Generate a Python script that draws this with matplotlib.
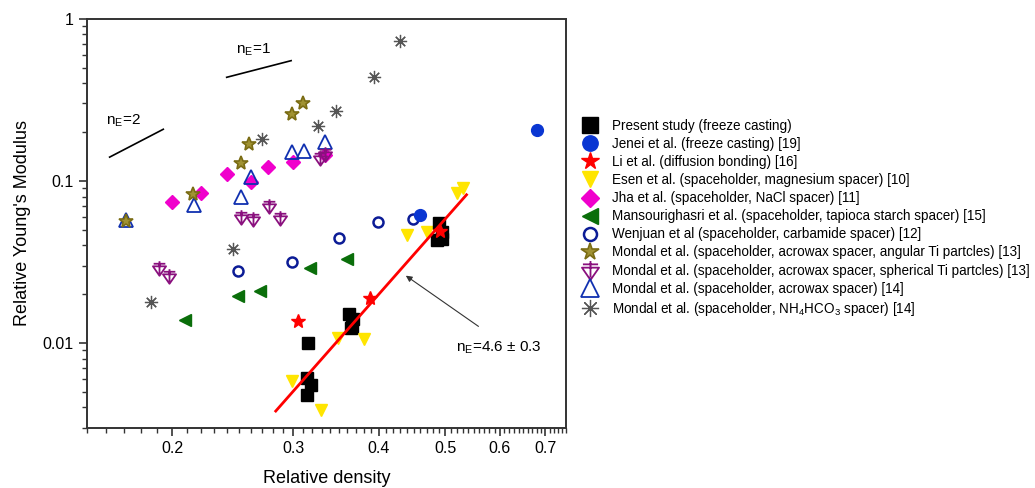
import matplotlib
matplotlib.use('Agg')
import matplotlib.pyplot as plt
from matplotlib.path import Path
from matplotlib.lines import Line2D
from matplotlib.ticker import FixedLocator, LogLocator, NullFormatter

plt.rcParams['font.family'] = ['Liberation Sans', 'DejaVu Sans']
plt.rcParams['mathtext.default'] = 'regular'

# ---------------- data ----------------
present_x = [0.315, 0.314, 0.319, 0.314, 0.362, 0.367, 0.366, 0.364, 0.489, 0.494, 0.487, 0.495]
present_y = [0.0100, 0.0061, 0.0055, 0.0048, 0.0151, 0.0140, 0.0128, 0.0123, 0.055, 0.048, 0.043, 0.044]

jenei_x = [0.680, 0.460]
jenei_y = [0.206, 0.0615]

li_x = [0.305, 0.388, 0.491]
li_y = [0.0137, 0.0189, 0.0487]

esen_x = [0.299, 0.329, 0.349, 0.380, 0.439, 0.470, 0.520, 0.531]
esen_y = [0.0058, 0.00384, 0.0107, 0.0105, 0.0465, 0.0483, 0.0840, 0.0902]

jha_x = [0.200, 0.220, 0.240, 0.260, 0.276, 0.300, 0.334]
jha_y = [0.0739, 0.0847, 0.1104, 0.099, 0.121, 0.1315, 0.1445]

mans_x = [0.209, 0.249, 0.268, 0.318, 0.359]
mans_y = [0.0139, 0.0194, 0.0210, 0.0290, 0.0329]

wen_x = [0.249, 0.299, 0.350, 0.399, 0.449]
wen_y = [0.0279, 0.0316, 0.0447, 0.0561, 0.0581]

ang_x = [0.171, 0.214, 0.252, 0.259, 0.299, 0.310]
ang_y = [0.0567, 0.0828, 0.1297, 0.168, 0.259, 0.304]

sph_x = [0.191, 0.198, 0.252, 0.262, 0.277, 0.287, 0.328, 0.334]
sph_y = [0.029, 0.026, 0.0597, 0.0581, 0.0695, 0.0589, 0.138, 0.1467]

acr_x = [0.171, 0.215, 0.252, 0.260, 0.299, 0.311, 0.334]
acr_y = [0.057, 0.0711, 0.080, 0.1063, 0.1515, 0.1537, 0.1746]

nh4_x = [0.186, 0.245, 0.270, 0.326, 0.346, 0.393, 0.429]
nh4_y = [0.0179, 0.0380, 0.1807, 0.218, 0.271, 0.435, 0.729]

fit_x = [0.283, 0.537]
fit_y = [0.0038, 0.082]

slope2_x = [0.162, 0.194]
slope2_y = [0.140, 0.208]
slope1_x = [0.240, 0.298]
slope1_y = [0.435, 0.551]

x_major = [0.2, 0.3, 0.4, 0.5, 0.6, 0.7]
x_major_labels = ['0.2', '0.3', '0.4', '0.5', '0.6', '0.7']
y_major = [0.01, 0.1, 1]
y_major_labels = ['0.01', '0.1', '1']

labels = [
    'Present study (freeze casting)',
    'Jenei et al. (freeze casting) [19]',
    'Li et al. (diffusion bonding) [16]',
    'Esen et al. (spaceholder, magnesium spacer) [10]',
    'Jha et al. (spaceholder, NaCl spacer) [11]',
    'Mansourighasri et al. (spaceholder, tapioca starch spacer) [15]',
    'Wenjuan et al (spaceholder, carbamide spacer) [12]',
    'Mondal et al. (spaceholder, acrowax spacer, angular Ti partcles) [13]',
    'Mondal et al. (spaceholder, acrowax spacer, spherical Ti partcles) [13]',
    'Mondal et al. (spaceholder, acrowax spacer) [14]',
    'Mondal et al. (spaceholder, NH$_4$HCO$_3$ spacer) [14]',
]

# ---------------- custom marker ----------------
M, L, C = Path.MOVETO, Path.LINETO, Path.CLOSEPOLY
sph_marker = Path(
    [(-0.9, 0.3), (0.9, 0.3), (0, -1), (-0.9, 0.3),
     (0, 1), (0, -0.75),
     (-0.8, 0.65), (0.8, 0.65)],
    [M, L, L, C, M, L, M, L])

W, H = 1035, 488
fig = plt.figure(figsize=(W / 100, H / 100), dpi=100)
ax = fig.add_axes([86.7 / W, 1 - 427.7 / H, (566 - 86.7) / W, (427.7 - 18.7) / H])
ax.set_xscale('log')
ax.set_yscale('log')
ax.set_xlim(0.15, 0.75)
ax.set_ylim(0.003, 1)

styles = [
    dict(marker='s', ms=8.5, color='black', ls='none'),
    dict(marker='o', ms=8.5, color='#0a36d2', ls='none'),
    dict(marker='*', ms=10, color='#ff0000', ls='none'),
    dict(marker='v', ms=8.5, color='#ffe500', ls='none'),
    dict(marker='D', ms=7, color='#f000cc', ls='none'),
    dict(marker='<', ms=9, color='#0a6e0a', ls='none'),
    dict(marker='o', ms=7.2, mfc='none', mec='#0c1c96', mew=1.8, ls='none'),
    dict(marker='*', ms=10, mfc='#a09232', mec='#7a6c14', mew=1.2, ls='none'),
    dict(marker=sph_marker, ms=10.5, mfc='none', mec='#8a107e', mew=1.3, ls='none'),
    dict(marker='^', ms=9.5, mfc='none', mec='#1030b0', mew=1.3, ls='none'),
    dict(marker=(8, 2, 0), ms=9.5, mfc='none', mec='#555555', mew=0.9, ls='none'),
]
series = [(present_x, present_y), (jenei_x, jenei_y), (li_x, li_y), (esen_x, esen_y),
          (jha_x, jha_y), (mans_x, mans_y), (wen_x, wen_y), (ang_x, ang_y),
          (sph_x, sph_y), (acr_x, acr_y), (nh4_x, nh4_y)]

order = [3, 4, 5, 6, 10, 9, 8, 7, 1, 0, 2]
for i in order:
    xs, ys = series[i]
    ax.plot(xs, ys, zorder=3 + (1 if i in (0, 2) else 0), **styles[i])

ax.plot(fit_x, fit_y, color='#ff0000', lw=2, zorder=4.5)
ax.plot(slope2_x, slope2_y, color='black', lw=1.2)
ax.plot(slope1_x, slope1_y, color='black', lw=1.2)

ax.text(0.160, 0.221, 'n$_E$=2', fontsize=11, ha='left', va='baseline')
ax.text(0.248, 0.612, 'n$_E$=1', fontsize=11, ha='left', va='baseline')
ax.text(0.518, 0.00888, 'n$_E$=4.6 $\\pm$ 0.3', fontsize=11, ha='left', va='baseline')
ax.annotate('', xy=(0.438, 0.026), xytext=(0.559, 0.01265),
            arrowprops=dict(arrowstyle='-|>', color='#333333', lw=0.8,
                            mutation_scale=9, shrinkA=0, shrinkB=0))

# ticks
ax.xaxis.set_major_locator(FixedLocator(x_major))
ax.set_xticklabels(x_major_labels)
minors = [round(0.15 + 0.01 * k, 2) for k in range(61)]
minors = [m for m in minors if round(m, 2) not in x_major]
ax.xaxis.set_minor_locator(FixedLocator(minors))
ax.xaxis.set_minor_formatter(NullFormatter())
ax.yaxis.set_major_locator(FixedLocator(y_major))
ax.set_yticklabels(y_major_labels)
ax.yaxis.set_minor_locator(LogLocator(base=10, subs=range(2, 10)))
ax.yaxis.set_minor_formatter(NullFormatter())
ax.tick_params(which='major', direction='out', length=6, width=1.2, color='#333333',
               labelsize=11.5, top=False, right=False)
ax.tick_params(which='minor', direction='out', length=3.5, width=1.0, color='#333333',
               top=False, right=False)
for s in ax.spines.values():
    s.set_color('#333333')
    s.set_linewidth(1.4)

ax.set_xlabel('Relative density', fontsize=13, labelpad=10)
ax.set_ylabel("Relative Young's Modulus", fontsize=13, labelpad=8)

# legend
handles = []
for st in styles:
    st2 = dict(st)
    st2['ms'] = st['ms'] * 1.3
    handles.append(Line2D([], [], **st2))
fig.legend(handles, labels, loc='upper left', bbox_to_anchor=(580.5 / W, 1 - 119 / H),
           frameon=False, fontsize=9.75, borderpad=0, borderaxespad=0,
           handlelength=1.4, handletextpad=0.9, labelspacing=0.3)

fig.savefig('out.png', dpi=100)
